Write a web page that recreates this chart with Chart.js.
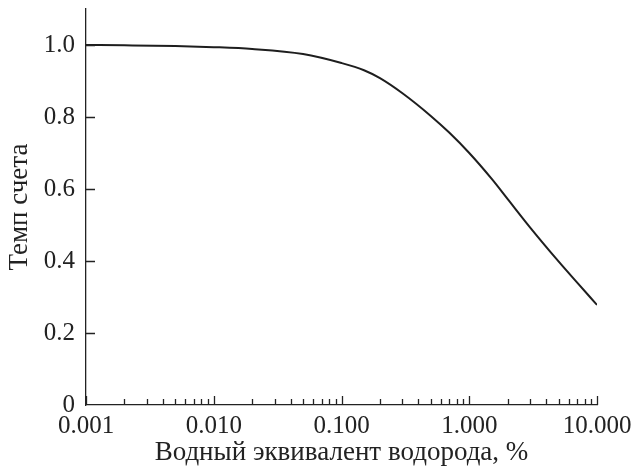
<!DOCTYPE html>
<html lang="ru">
<head>
    <meta charset="UTF-8">
    <title>Темп счета</title>
    <script src="https://cdn.jsdelivr.net/npm/chart.js"></script>
    <style>
        html, body { margin: 0; padding: 0; background: #fff; }
        #wrap { width: 635px; height: 468px; }
    </style>
</head>
<body>
    <div id="wrap"><canvas id="myChart"></canvas></div>
    <script>
        // значения
        const waterEq = [0.001, 0.002, 0.005, 0.01, 0.02, 0.05, 0.1, 0.15, 0.2, 0.3, 0.5, 0.7, 1, 1.5, 2, 3, 5, 7, 10];
        const countRate = [1.0, 0.999, 0.997, 0.994, 0.989, 0.975, 0.95, 0.93, 0.908, 0.866, 0.803, 0.756, 0.70, 0.628, 0.572, 0.493, 0.399, 0.34, 0.278];

        const xMajor = [0.001, 0.01, 0.1, 1, 10];
        const xLabels = ['0.001', '0.010', '0.100', '1.000', '10.000'];
        const yTicks = [0, 0.2, 0.4, 0.6, 0.8, 1.0];
        const yLabels = ['0', '0.2', '0.4', '0.6', '0.8', '1.0'];

        const font = { family: 'Liberation Serif, Times New Roman, serif', size: 25 };
        const titleFont = { family: 'Liberation Serif, Times New Roman, serif', size: 27 };

        // тики внутрь графика
        const inwardTicks = {
            id: 'inwardTicks',
            afterDatasetsDraw(chart) {
                const ctx = chart.ctx;
                const x = chart.scales.x, y = chart.scales.y;
                const area = chart.chartArea;
                ctx.save();
                ctx.strokeStyle = '#222';
                ctx.lineWidth = 1.3;
                ctx.beginPath();
                x.ticks.forEach(t => {
                    const px = Math.round(x.getPixelForValue(t.value)) + 0.5;
                    const len = t.major ? 9 : 6;
                    ctx.moveTo(px, area.bottom);
                    ctx.lineTo(px, area.bottom - len);
                });
                y.ticks.forEach(t => {
                    if (t.value === 0) return;
                    const py = Math.round(y.getPixelForValue(t.value)) + 0.5;
                    ctx.moveTo(area.left, py);
                    ctx.lineTo(area.left + 9, py);
                });
                ctx.stroke();
                ctx.restore();
            }
        };

        const ctx = document.getElementById('myChart').getContext('2d');
        new Chart(ctx, {
            type: 'line',
            data: {
                datasets: [{
                    data: waterEq.map((v, i) => ({ x: v, y: countRate[i] })),
                    borderColor: '#1e1e1e',
                    borderWidth: 2,
                    pointRadius: 0,
                    cubicInterpolationMode: 'monotone',
                    fill: false
                }]
            },
            options: {
                responsive: true,
                maintainAspectRatio: false,
                animation: false,
                layout: { padding: { left: 0, right: 38, top: 9, bottom: 0 } },
                plugins: { legend: { display: false }, tooltip: { enabled: false } },
                scales: {
                    x: {
                        type: 'logarithmic',
                        min: 0.001,
                        max: 10,
                        afterBuildTicks(scale) {
                            const t = [];
                            xMajor.forEach((d, i) => {
                                t.push({ value: d, major: true });
                                if (i < xMajor.length - 1) {
                                    for (let m = 2; m <= 9; m++) t.push({ value: d * m, major: false });
                                }
                            });
                            scale.ticks = t;
                        },
                        afterFit(scale) {
                            scale.height = 63;
                            scale.paddingLeft = 0;
                            scale.paddingRight = 0;
                        },
                        ticks: {
                            autoSkip: false,
                            maxRotation: 0,
                            padding: 6,
                            color: '#222',
                            font: font,
                            callback(value) {
                                const i = xMajor.findIndex(v => Math.abs(v - value) / v < 1e-6);
                                return i >= 0 ? xLabels[i] : '';
                            }
                        },
                        grid: { display: false, drawTicks: false },
                        border: { display: true, color: '#222', width: 1.3 },
                        title: {
                            display: true,
                            text: 'Водный эквивалент водорода, %',
                            color: '#222',
                            font: titleFont,
                            padding: { top: 0, bottom: -1 }
                        }
                    },
                    y: {
                        min: 0,
                        max: 1.1,
                        afterBuildTicks(scale) {
                            scale.ticks = yTicks.map(v => ({ value: v }));
                        },
                        afterFit(scale) {
                            scale.width = 86;
                            scale.paddingTop = 0;
                            scale.paddingBottom = 0;
                        },
                        ticks: {
                            padding: 11,
                            color: '#222',
                            font: font,
                            callback(value) {
                                const i = yTicks.findIndex(v => Math.abs(v - value) < 1e-9);
                                return i >= 0 ? yLabels[i] : '';
                            }
                        },
                        grid: { display: false, drawTicks: false },
                        border: { display: true, color: '#222', width: 1.3 },
                        title: {
                            display: true,
                            text: 'Темп счета',
                            color: '#222',
                            font: titleFont,
                            padding: { top: 4, bottom: 0 }
                        }
                    }
                }
            },
            plugins: [inwardTicks]
        });
    </script>
</body>
</html>
